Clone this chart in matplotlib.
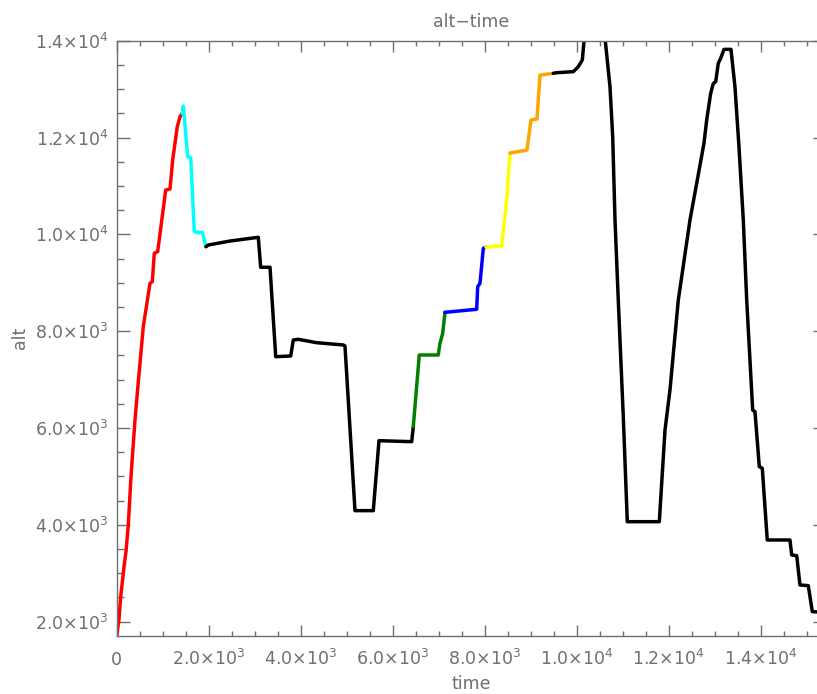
import matplotlib
matplotlib.use("Agg")
import matplotlib.pyplot as plt
import numpy as np

# ---- data ----
time = [0, 50, 87, 159, 202, 252, 311, 398, 474, 578, 724, 774, 817, 891, 1065,
        1159, 1217, 1317, 1376, 1426,
        1448, 1543, 1609, 1687, 1789, 1861, 1941,
        1991, 2463, 3078, 3130, 3333, 3457, 3783, 3839, 3948, 4348, 4926, 4963,
        5180, 5578, 5702, 6413, 6448,
        6578, 6991, 7028, 7087, 7137,
        7826, 7848, 7898, 7970, 8028,
        8370, 8478, 8550,
        8920, 9007, 9137, 9202, 9491,
        9565, 9926, 10035, 10122, 10180, 10600, 10724, 10783, 10833, 10904,
        11013, 11100, 11796, 11920, 12028, 12209, 12463, 12609, 12767, 12826,
        12913, 12970, 13022, 13078, 13130, 13202, 13354, 13441, 13528, 13622,
        13696, 13826, 13876, 13970, 14035, 14143, 14637, 14674, 14783, 14854,
        15035, 15122, 15420]
alt = [1700, 2056, 2516, 3136, 3446, 3997, 5000, 6170, 7000, 8093, 8989, 9022, 9609, 9642, 10916,
       10937, 11535, 12224, 12430, 12500,
       12650, 11604, 11590, 10055, 10034, 10042, 9745,
       9780, 9862, 9939, 9320, 9320, 7473, 7488, 7818, 7832, 7762, 7715, 7694,
       4293, 4293, 5738, 5718, 6027,
       7508, 7508, 7750, 7956, 8390,
       8452, 8919, 8989, 9712, 9733,
       9766, 10710, 11680,
       11741, 12361, 12382, 13290, 13326,
       13339, 13360, 13463, 13601, 14200, 14200, 13050, 12017, 10297, 8644,
       6234, 4065, 4065, 5959, 6785, 8644, 10297, 11054, 11880, 12361,
       12912, 13118, 13153, 13532, 13635, 13821, 13821, 13049, 11810, 10297,
       8644, 6372, 6337, 5201, 5168, 3687, 3687, 3378, 3363, 2758,
       2744, 2207, 2190]

seg_start = [0, 1426, 1941, 6448, 7137, 8028, 8550, 9491]
seg_colors = ['#ff0000', '#00ffff', '#000000', '#008000', '#0000ff',
              '#ffff00', '#ffa500', '#000000']

xticks = [0, 2000, 4000, 6000, 8000, 10000, 12000, 14000]
xticklabels = ['0', r'$2.0{\times}10^{3}$', r'$4.0{\times}10^{3}$', r'$6.0{\times}10^{3}$',
               r'$8.0{\times}10^{3}$', r'$1.0{\times}10^{4}$', r'$1.2{\times}10^{4}$',
               r'$1.4{\times}10^{4}$']
yticks = [2000, 4000, 6000, 8000, 10000, 12000, 14000]
yticklabels = [r'$2.0{\times}10^{3}$', r'$4.0{\times}10^{3}$', r'$6.0{\times}10^{3}$',
               r'$8.0{\times}10^{3}$', r'$1.0{\times}10^{4}$', r'$1.2{\times}10^{4}$',
               r'$1.4{\times}10^{4}$']

# ---- style ----
plt.rcParams['mathtext.fontset'] = 'dejavusans'
plt.rcParams['font.family'] = ['DejaVu Sans']
gray = '#707070'
fs = 12.5

W, H = 817, 694
fig = plt.figure(figsize=(W / 100, H / 100), dpi=100)
left, right, top, bottom = 116.7, 826.0, 40.7, 635.7
ax = fig.add_axes([left / W, (H - bottom) / H, (right - left) / W, (bottom - top) / H])

t = np.array(time, dtype=float)
a = np.array(alt, dtype=float)
bounds = seg_start + [t[-1]]
for i, c in enumerate(seg_colors):
    i0 = int(np.searchsorted(t, bounds[i]))
    i1 = int(np.searchsorted(t, bounds[i + 1])) + 1
    ax.plot(t[i0:i1], a[i0:i1], color=c, lw=2.5, solid_joinstyle='round',
            solid_capstyle='round')

ax.set_xlim(0, 15420)
ax.set_ylim(1710, 14000)

for s in ax.spines.values():
    s.set_color(gray)
    s.set_linewidth(1.0)

ax.set_xticks(xticks)
ax.set_xticklabels(xticklabels)
ax.set_yticks(yticks)
ax.set_yticklabels(yticklabels)
ax.set_xticks(np.arange(500, 15420, 500), minor=True)
ax.set_yticks(np.arange(2500, 14000, 500), minor=True)

ax.tick_params(axis='x', which='major', direction='in', length=7.9, width=1.0,
               color=gray, top=True, labelsize=fs, labelcolor=gray, pad=21)
ax.tick_params(axis='x', which='minor', direction='in', length=3.8, width=1.0,
               color=gray, top=True)
ax.tick_params(axis='y', which='major', direction='in', length=9.6, width=1.0,
               color=gray, right=True, labelsize=fs, labelcolor=gray, pad=6)
ax.tick_params(axis='y', which='minor', direction='in', length=4.8, width=1.0,
               color=gray, right=True)
for tk in ax.xaxis.get_major_ticks():
    tk.label1.set_verticalalignment('baseline')

ax.set_xlabel('time', fontsize=fs, color=gray, va='center')
ax.xaxis.set_label_coords(0.5, (bottom - 684) / (bottom - top))
ax.set_ylabel('alt', fontsize=fs, color=gray, va='center')
ax.yaxis.set_label_coords((20 - left) / (right - left), 0.5)
ax.set_title('alt\u2212time', fontsize=fs, color=gray, pad=10)

fig.savefig('out.png', dpi=100)
